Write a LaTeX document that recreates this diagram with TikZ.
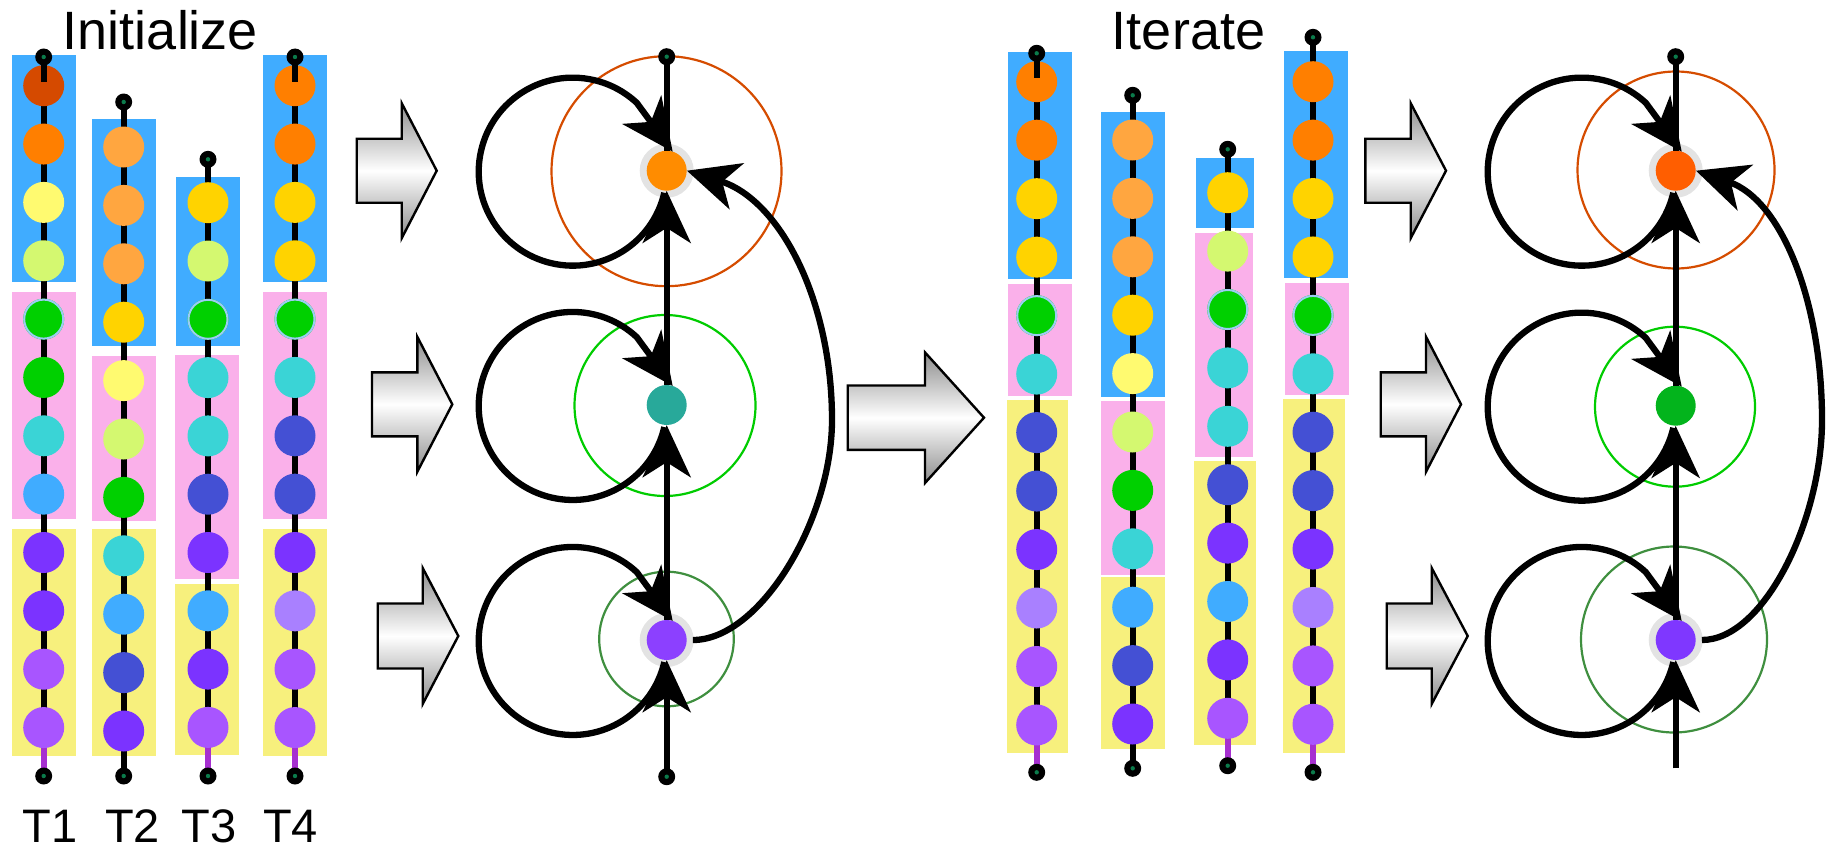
\documentclass[tikz,border=0pt]{standalone}
\usepackage{fontspec}
\setmainfont{Liberation Sans}
\usetikzlibrary{arrows.meta,calc}
\pgfdeclarelayer{boxes}\pgfdeclarelayer{lines}\pgfdeclarelayer{front}
\pgfsetlayers{boxes,lines,main,front}
% bead colours
\definecolor{bDkOr}{HTML}{D54A00}
\definecolor{bOr}{HTML}{FF7F00}
\definecolor{bLOr}{HTML}{FFA640}
\definecolor{bGold}{HTML}{FFD300}
\definecolor{bLYel}{HTML}{FFFA70}
\definecolor{bLime}{HTML}{D4F870}
\definecolor{bGrn}{HTML}{00D000}
\definecolor{bCyan}{HTML}{3AD4D6}
\definecolor{bSky}{HTML}{40ACFF}
\definecolor{bInd}{HTML}{4450D4}
\definecolor{bVio}{HTML}{7B33FF}
\definecolor{bLil}{HTML}{A980FF}
\definecolor{bOrc}{HTML}{A855FF}
\definecolor{bRing}{HTML}{9CCCF4}
\definecolor{bSeg}{HTML}{A62FD0}
\definecolor{termg}{HTML}{0B7B4B}
% boxes
\definecolor{bxB}{HTML}{40ACFF}
\definecolor{bxP}{HTML}{FAB0EA}
\definecolor{bxY}{HTML}{F7F07D}
% graph
\definecolor{gOr}{HTML}{FF8C00}
\definecolor{gTeal}{HTML}{28A99A}
\definecolor{gPur}{HTML}{8C40FF}
\definecolor{gRedOr}{HTML}{FF5E00}
\definecolor{gGrn}{HTML}{03B41C}
\definecolor{gPur2}{HTML}{7F37FF}
\definecolor{cRed}{HTML}{D54C00}
\definecolor{cGrn}{HTML}{00CC00}
\definecolor{cDGrn}{HTML}{3F8F3F}
\definecolor{haloc}{HTML}{E3E3E3}

\tikzset{
  bead/.style={circle, minimum size=41pt, inner sep=0pt},
  term/.style={circle, fill=black, minimum size=17pt, inner sep=0pt,
    path picture={\fill[termg] (path picture bounding box.center) circle (2.2pt);}},
  chainline/.style={line width=6pt, draw=black},
  gnode/.style={circle, minimum size=40pt, inner sep=0pt},
  conn/.style={line width=6.3pt, -{Stealth[length=52pt,width=48pt,inset=15pt]}},
  plainconn/.style={line width=6.3pt},
  ringc/.style={line width=2pt},
  outl/.style={line width=2.2pt},
  barrow/.style={draw=black, line width=2.4pt, line join=miter, top color=black!45, bottom color=black!45, middle color=white},
  bigtext/.style={font=\fontsize{54}{60}\selectfont, anchor=base, inner sep=0pt},
  tlabel/.style={font=\fontsize{47}{52}\selectfont, anchor=base, inner sep=0pt, text depth=0pt},
}

% #1 name, #2 x, #3 top terminal y, #4 first bead y, #5 spacing, #6 colours,
% #7 bottom terminal y, #8 bottom segment colour, #9 top line over first bead
\newcommand{\tchain}[9]{%
  \begin{pgfonlayer}{front}
    \node[term] (#1t) at (#2,-#3) {};
    \node[term] (#1b) at (#2,-#7) {};
  \end{pgfonlayer}
  \foreach \bc [count=\i] in {#6} {%
    \node[bead, fill=\bc] (#1-\i) at (#2,{-#4-(\i-1)*#5}) {};
    \ifnum\i>1
      \pgfmathtruncatemacro\pj{\i-1}%
      \begin{pgfonlayer}{lines}\draw[chainline] (#1-\pj.center) -- (#1-\i.center);\end{pgfonlayer}
    \fi
    \xdef\lastbead{\i}%
  }
  \begin{pgfonlayer}{lines}
    \draw[chainline, draw=#8] (#1-\lastbead.center) -- (#1b.center);
  \end{pgfonlayer}
  \ifnum#9=1
    \draw[chainline] (#1t.center) -- ([yshift=4pt]#1-1.center);
  \else
    \begin{pgfonlayer}{lines}\draw[chainline] (#1t.center) -- (#1-1.center);\end{pgfonlayer}
  \fi
}

% block arrow: #1 x0, #2 x head, #3 x tip, #4 centre y (screen), #5 shaft half, #6 head half
\newcommand{\blockarrow}[6]{%
  \draw[barrow] (#1,{-#4+#5}) -- (#2,{-#4+#5}) -- (#2,{-#4+#6}) -- (#3,-#4)
    -- (#2,{-#4-#6}) -- (#2,{-#4-#5}) -- (#1,{-#4-#5}) -- cycle;
}

\begin{document}
\begin{tikzpicture}[x=1pt,y=1pt]
\useasboundingbox (0,0) rectangle (1828,-851);

% ---------- coloured boxes ----------
\begin{pgfonlayer}{boxes}
  % T1
  \fill[bxB] (12,-55) rectangle (76,-282);
  \fill[bxP] (12,-292) rectangle (76,-518.7);
  \fill[bxY] (12,-529) rectangle (76,-755.7);
  % T2
  \fill[bxB] (92,-119) rectangle (156,-345.7);
  \fill[bxP] (92,-356) rectangle (156,-520.7);
  \fill[bxY] (92,-529) rectangle (156,-755.7);
  % T3
  \fill[bxB] (176,-177) rectangle (240,-345.7);
  \fill[bxP] (175,-355) rectangle (239,-578.7);
  \fill[bxY] (175,-584) rectangle (239,-754.7);
  % T4
  \fill[bxB] (263,-55) rectangle (327,-282);
  \fill[bxP] (263,-292) rectangle (327,-518.7);
  \fill[bxY] (263,-529) rectangle (327,-755.7);
  % A
  \fill[bxB] (1008.3,-52.3) rectangle (1071.7,-278.7);
  \fill[bxP] (1008.3,-284) rectangle (1071.7,-395.7);
  \fill[bxY] (1007,-400) rectangle (1067.7,-753.3);
  % B
  \fill[bxB] (1101,-112) rectangle (1165,-396.7);
  \fill[bxP] (1101,-401) rectangle (1165,-575);
  \fill[bxY] (1101,-577) rectangle (1165,-749);
  % C
  \fill[bxB] (1196,-158) rectangle (1254,-228);
  \fill[bxP] (1195,-232.7) rectangle (1253,-456.7);
  \fill[bxY] (1194,-461) rectangle (1256,-745);
  % D
  \fill[bxB] (1284,-51) rectangle (1348,-277.7);
  \fill[bxP] (1285,-283) rectangle (1349,-394.7);
  \fill[bxY] (1283,-399) rectangle (1345,-752.7);
\end{pgfonlayer}

% ---------- chains ----------
\tchain{T1}{43.7}{57}{85.7}{58.35}{bDkOr,bOr,bLYel,bLime,bGrn,bGrn,bCyan,bSky,bVio,bVio,bOrc,bOrc}{776}{bSeg}{1}
\tchain{T2}{123.7}{102}{147}{58.4}{bLOr,bLOr,bLOr,bGold,bLYel,bLime,bGrn,bCyan,bSky,bInd,bVio}{776}{black}{0}
\tchain{T3}{208}{159.3}{202.7}{58.3}{bGold,bLime,bGrn,bCyan,bCyan,bInd,bVio,bSky,bVio,bOrc}{776}{bSeg}{0}
\tchain{T4}{295}{57}{85.7}{58.35}{bOr,bOr,bGold,bGold,bGrn,bCyan,bInd,bInd,bVio,bLil,bOrc,bOrc}{776}{bSeg}{1}
\tchain{A}{1036.7}{53.3}{81.7}{58.48}{bOr,bOr,bGold,bGold,bGrn,bCyan,bInd,bInd,bVio,bLil,bOrc,bOrc}{772.3}{bSeg}{1}
\tchain{B}{1132.7}{95.3}{140}{58.4}{bLOr,bLOr,bLOr,bGold,bLYel,bLime,bGrn,bCyan,bSky,bInd,bVio}{768.3}{black}{0}
\tchain{C}{1227.7}{149.3}{192.7}{58.4}{bGold,bLime,bGrn,bCyan,bCyan,bInd,bVio,bSky,bVio,bOrc}{765.7}{bSeg}{0}
\tchain{D}{1313}{37.3}{81.7}{58.42}{bOr,bOr,bGold,bGold,bGrn,bCyan,bInd,bInd,bVio,bLil,bOrc,bOrc}{772.3}{bSeg}{0}

\foreach \n in {T1-5,T3-3,T4-5,A-5,C-3,D-5}
  \draw[bRing, ringc] (\n.center) circle (19.5);

% ---------- labels ----------
\node[bigtext] (init) at (160.5,-49.3) {Initialize};
\node[bigtext] (iter) at (1188.5,-50) {Iterate};
\node[tlabel] (lT1) at (50.3,-842) {T1};
\node[tlabel] (lT2) at (132.7,-842) {T2};
\node[tlabel] (lT3) at (209,-842) {T3};
\node[tlabel] (lT4) at (290.5,-842) {T4};

% ---------- block arrows ----------
\blockarrow{356.7}{401.7}{436.7}{170.7}{32}{67.5}
\blockarrow{372}{417.3}{452.3}{404.3}{32}{67.5}
\blockarrow{377.7}{422.7}{458.3}{636}{32.5}{68}
\blockarrow{847.7}{925}{984}{417.7}{32.2}{65.3}
\blockarrow{1365.3}{1410.7}{1446}{170.7}{32}{67.5}
\blockarrow{1380.7}{1426}{1461}{404.3}{32}{67.5}
\blockarrow{1386.7}{1431.7}{1467.7}{636}{32.5}{68}

% ---------- graph 1 ----------
\draw[cRed, outl] (666.5,-171.2) circle (115);
\draw[cGrn, outl] (665,-405.5) circle (90.5);
\draw[cDGrn, outl] (666.5,-639) circle (67.3);
\fill[haloc] (666.7,-170.7) circle (27);
\fill[haloc] (666.7,-640) circle (27);
\node[gnode, fill=gOr] (G1T) at (666.7,-170.7) {};
\node[gnode, fill=gTeal] (G1M) at (666.7,-405) {};
\node[gnode, fill=gPur] (G1B) at (666.7,-640) {};
\begin{pgfonlayer}{front}
  \node[term] (G1tt) at (666.7,-56.7) {};
  \node[term] (G1bt) at (666.7,-776.7) {};
\end{pgfonlayer}
\draw[plainconn] (G1tt.center) -- (G1T);
\draw[conn] (G1M) -- (G1T);
\draw[conn] (G1B) -- (G1M);
\draw[conn] (G1bt.center) -- (G1B);
\foreach \g in {G1T,G1M,G1B}
  \draw[conn, shift={(\g.center)}] (-2.4,-22.1) arc[start angle=-13, end angle=-313, radius=94] -- (6,19);
\coordinate (G1r) at (832,-420);
\draw[conn] ([xshift=6pt]G1B.east) .. controls +(67,0) and +(0,-100) .. (G1r)
  .. controls +(0,120) and +(93,-29) .. (G1T.east);

% ---------- graph 2 ----------
\draw[cRed, outl] (1676,-170) circle (98.5);
\draw[cGrn, outl] (1675,-406.7) circle (80);
\draw[cDGrn, outl] (1674,-639.5) circle (93);
\fill[haloc] (1675.7,-170.7) circle (27);
\fill[haloc] (1675.7,-640) circle (27);
\node[gnode, fill=gRedOr] (G2T) at (1675.7,-170.7) {};
\node[gnode, fill=gGrn] (G2M) at (1675.7,-405.7) {};
\node[gnode, fill=gPur2] (G2B) at (1675.7,-640) {};
\begin{pgfonlayer}{front}
  \node[term] (G2tt) at (1675.7,-56.7) {};
\end{pgfonlayer}
\coordinate (G2end) at (1675.7,-768.3);
\draw[plainconn] (G2tt.center) -- (G2T);
\draw[conn] (G2M) -- (G2T);
\draw[conn] (G2B) -- (G2M);
\draw[conn] (G2end) -- (G2B);
\foreach \g in {G2T,G2M,G2B}
  \draw[conn, shift={(\g.center)}] (-2.4,-22.1) arc[start angle=-13, end angle=-313, radius=94] -- (6,19);
\coordinate (G2r) at (1822,-420);
\draw[conn] ([xshift=6pt]G2B.east) .. controls +(62,0) and +(0,-100) .. (G2r)
  .. controls +(0,120) and +(85,-29) .. (G2T.east);

\end{tikzpicture}
\end{document}
